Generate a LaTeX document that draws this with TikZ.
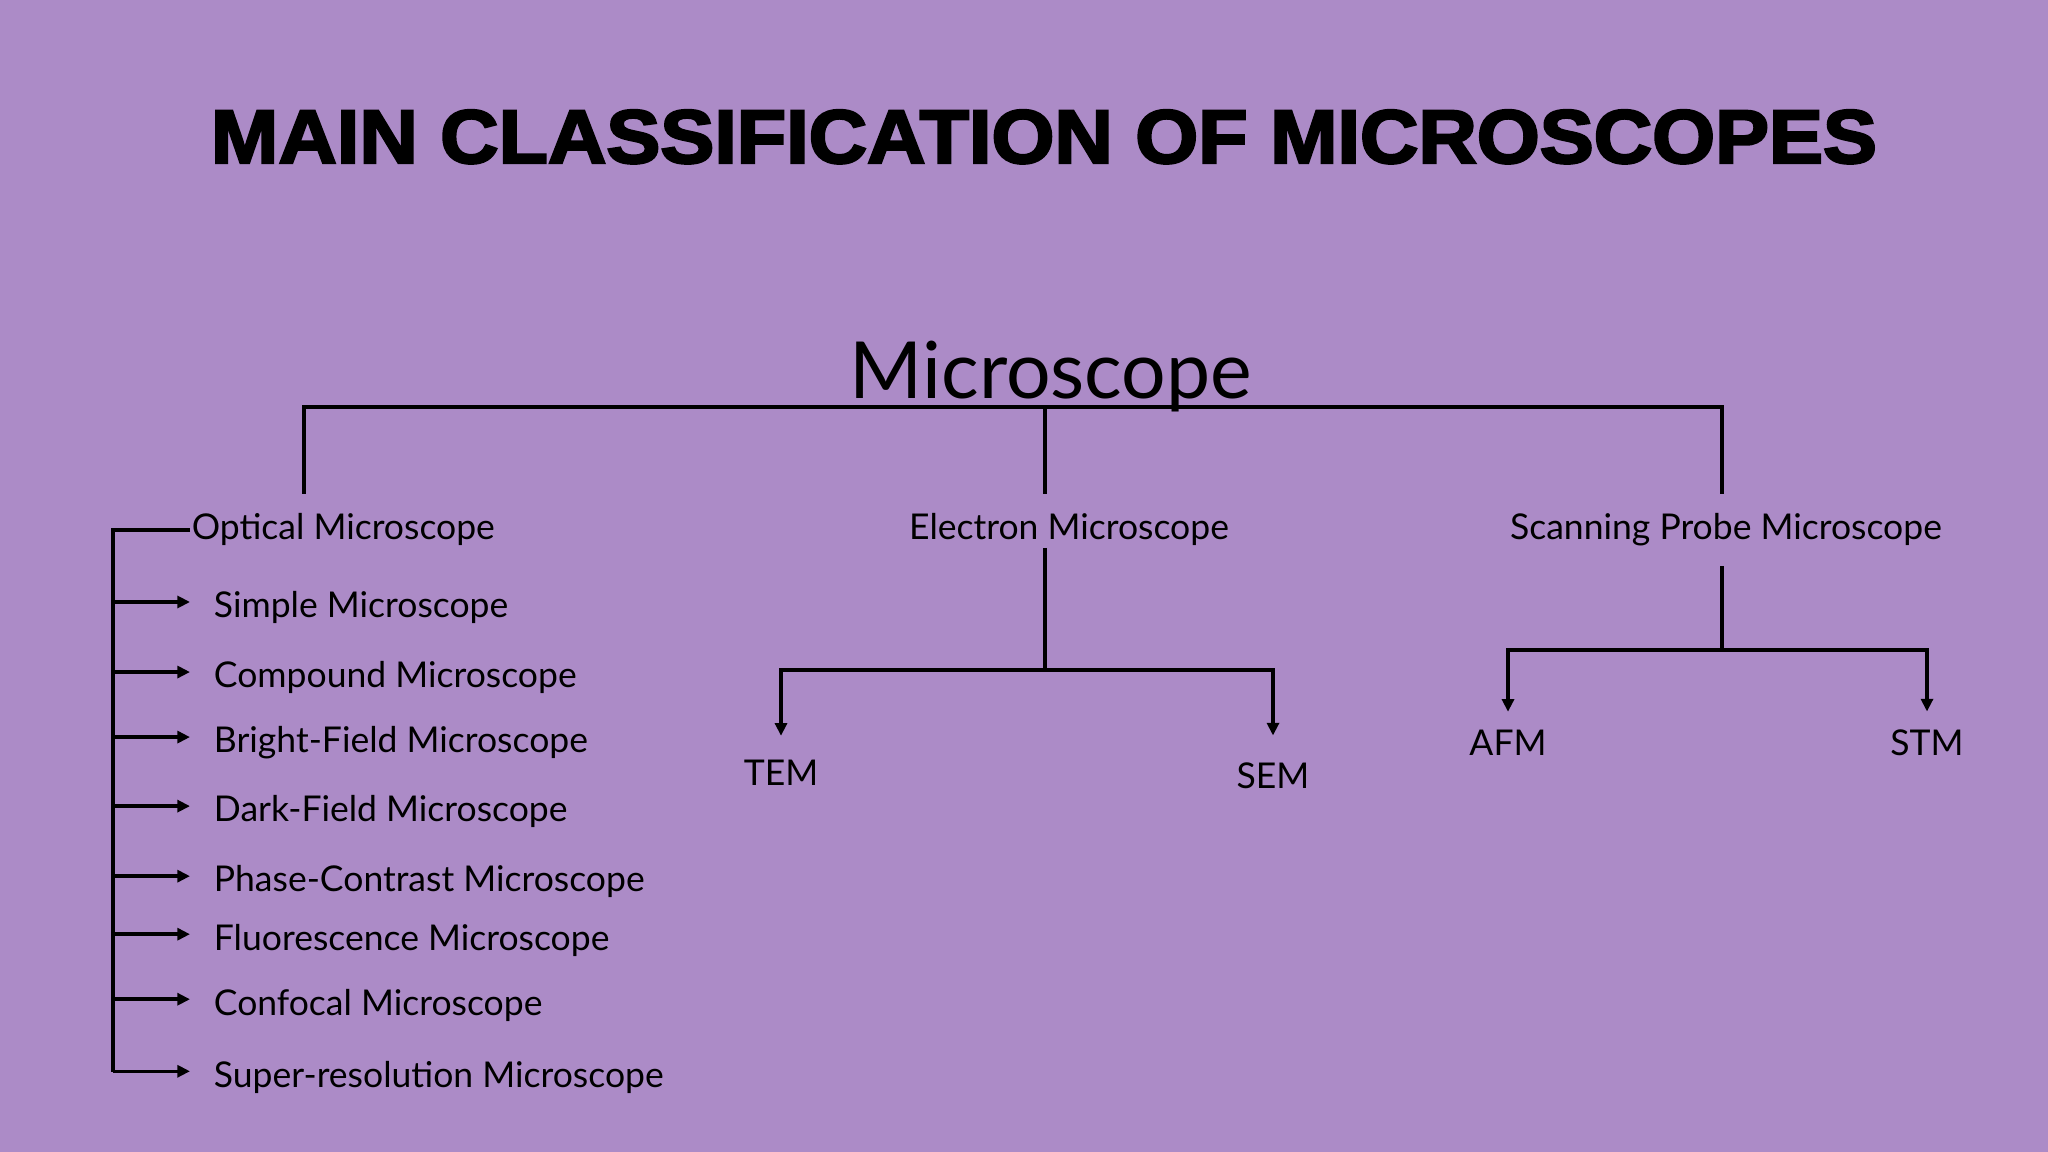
\documentclass[tikz,border=0pt]{standalone}
\usepackage{fontspec}
\setmainfont{Lato}
\newfontfamily\titlefont{Liberation Sans}[BoldFeatures={FakeBold=3}]
\usetikzlibrary{arrows.meta,positioning}
\definecolor{slidebg}{RGB}{172,139,199}

\begin{document}
\begin{tikzpicture}[x=0.01cm,y=-0.01cm,line width=1pt,on grid,
                    >={Triangle[length=3.6pt,width=3.4pt]}]
  \tikzstyle{head}=[font=\fontsize{10.1}{12}\selectfont,inner sep=0pt,anchor=base]
  \tikzstyle{item}=[font=\fontsize{10.1}{12}\selectfont,inner ysep=0pt,inner xsep=6.3pt,
                    text height=9pt,text depth=0pt,anchor=west]

  \fill[slidebg] (0,0) rectangle (2048,1152);
  \useasboundingbox (0,0) rectangle (2048,1152);

  \node[anchor=base] (title) at (1044,163)
    {\titlefont\bfseries\fontsize{21.6}{24}\selectfont\scalebox{1.065}[1]{MAIN CLASSIFICATION OF MICROSCOPES}};
  \node[anchor=base,inner sep=0pt,font=\fontsize{22.4}{26}\selectfont] (root) at (1051,399) {Microscope};

  \node[head,anchor=base west] (optical) at (190,540) {Optical Microscope};
  \node[head]                  (electron) at (1069,540) {Electron Microscope};
  \node[head]                  (spm)      at (1726,540) {Scanning Probe Microscope};

  \node[item] (simple) at (190,602) {Simple Microscope};
  \node[item,below=0.70cm of simple.west,anchor=west]   (compound) {Compound Microscope};
  \node[item,below=0.65cm of compound.west,anchor=west] (bright)   {Bright-Field Microscope};
  \node[item,below=0.69cm of bright.west,anchor=west]   (dark)     {Dark-Field Microscope};
  \node[item,below=0.70cm of dark.west,anchor=west]     (phase)    {Phase-Contrast Microscope};
  \node[item,below=0.58cm of phase.west,anchor=west]    (fluor)    {Fluorescence Microscope};
  \node[item,below=0.65cm of fluor.west,anchor=west]    (confocal) {Confocal Microscope};
  \node[item,below=0.72cm of confocal.west,anchor=west] (super)    {Super-resolution Microscope};

  \node[head] (tem) at (781,785)  {TEM};
  \node[head] (sem) at (1273,788) {SEM};
  \node[head] (afm) at (1508,755) {AFM};
  \node[head] (stm) at (1927,755) {STM};

  \coordinate (rootbus) at (1045,407);
  \coordinate (opdrop)  at (304,494);
  \coordinate (eldrop)  at (1045,494);
  \coordinate (spdrop)  at (1722,494);
  \coordinate (optbar)  at (113,1072);
  \coordinate (elfork)  at (1045,670);
  \coordinate (spfork)  at (1722,650);

  % top level
  \draw (opdrop) |- (rootbus) -| (spdrop);
  \draw (rootbus) -- (eldrop);

  % optical branch
  \draw (optical.west) -| (optbar);
  \foreach \n in {simple,compound,bright,dark,phase,fluor,confocal,super}
    \draw[->] (optbar |- \n.west) -- (\n.west);

  % electron branch
  \draw (electron.south -| elfork) -- (elfork);
  \draw[->,shorten >=0.22cm] (elfork) -| (tem.north);
  \draw[->,shorten >=0.25cm] (elfork) -| (sem.north);

  % scanning probe branch
  \draw ([yshift=-0.18cm]spm.south -| spfork) -- (spfork);
  \draw[->,shorten >=0.16cm] (spfork) -| (afm.north);
  \draw[->,shorten >=0.16cm] (spfork) -| (stm.north);
\end{tikzpicture}
\end{document}
